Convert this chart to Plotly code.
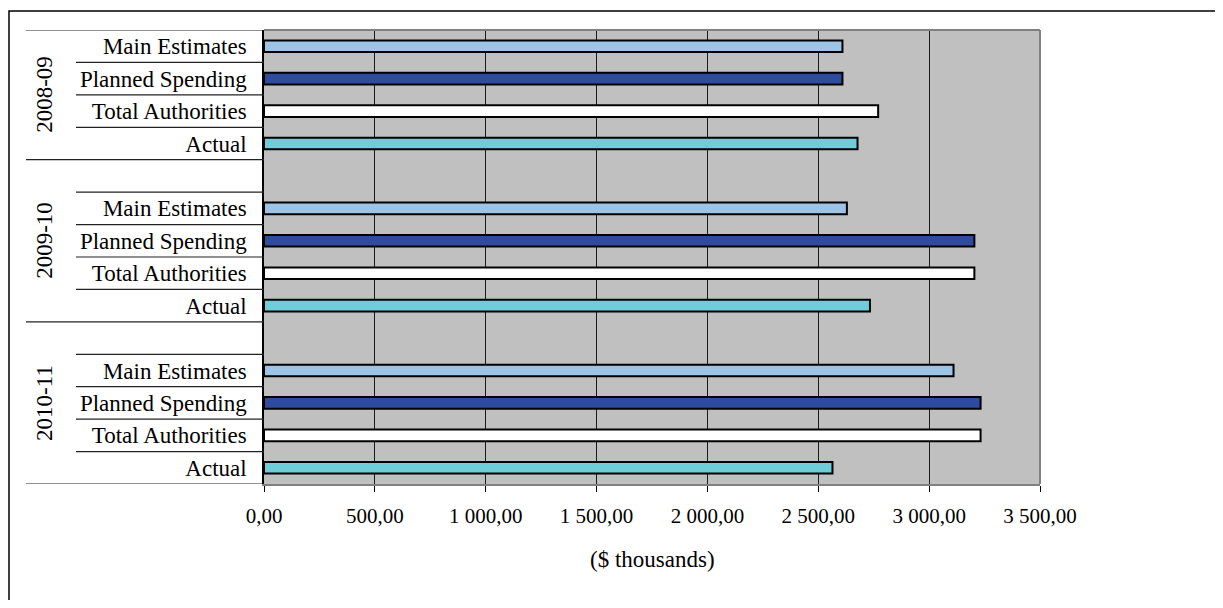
import plotly.graph_objects as go

# ---- data ----
years = ["2008-09", "2009-10", "2010-11"]
series_names = ["Main Estimates", "Planned Spending", "Total Authorities", "Actual"]
main_estimates = [2609, 2629, 3110]
planned_spending = [2609, 3204, 3232]
total_authorities = [2770, 3204, 3232]
actual = [2677, 2733, 2564]
x_tickvals = [0, 500, 1000, 1500, 2000, 2500, 3000, 3500]
x_ticktext = ["0,00", "500,00", "1 000,00", "1 500,00", "2 000,00", "2 500,00", "3 000,00", "3 500,00"]
x_title = "($ thousands)"

values = [main_estimates, planned_spending, total_authorities, actual]
colors = ["#9DC3E6", "#2E4B9F", "#FFFFFF", "#6FCCD9"]

# ---- layout constants (pixels) ----
OFF = 8  # page body margin
W, H = 1223 - 2 * OFF, 608 - 2 * OFF
L, T = 264 - OFF, 30 - OFF
R, B = W - (1040 - OFF), H - (484 - OFF)
PW, PH = W - L - R, H - T - B
FONT = "Liberation Serif"

def px_x(p):  # window pixel -> paper x
    return (p - OFF - L) / PW

def px_y(p):  # window pixel -> paper y
    return 1 - (p - OFF - T) / PH

n_series = len(series_names)
stride = n_series + 1  # blank row between year groups

fig = go.Figure()
for s, name in enumerate(series_names):
    ys = [g * stride + s for g in range(len(years))]
    fig.add_trace(go.Bar(
        x=values[s], y=ys, orientation="h", name=name,
        marker=dict(color=colors[s], line=dict(color="#000000", width=2)),
        width=0.36, showlegend=False, hoverinfo="x+name",
    ))

n_rows = len(years) * stride - 1
tickvals, ticktext = [], []
for g in range(len(years)):
    for s, name in enumerate(series_names):
        tickvals.append(g * stride + s)
        ticktext.append(name)

shapes = []
long_x0, short_x0 = px_x(26), px_x(76)
boundaries = [-0.5 + k for k in range(n_rows + 1)]
group_edges = {-0.5, n_rows - 0.5}
for g in range(1, len(years)):
    group_edges.add(g * stride - 1.5)
for b in boundaries:
    x0 = long_x0 if b in group_edges else short_x0
    shapes.append(dict(type="line", xref="paper", yref="y", x0=x0, x1=0, y0=b, y1=b,
                       line=dict(color="#222222", width=1.2)))
shapes.append(dict(type="line", xref="paper", yref="paper", x0=0, x1=1, y0=1, y1=1,
                   line=dict(color="#808080", width=2)))
shapes.append(dict(type="line", xref="paper", yref="paper", x0=1, x1=1, y0=0, y1=1,
                   line=dict(color="#808080", width=2)))
shapes.append(dict(type="rect", xref="paper", yref="paper",
                   x0=px_x(9), x1=px_x(1260), y0=px_y(650), y1=px_y(11),
                   line=dict(color="#000000", width=1.5), fillcolor="rgba(0,0,0,0)", layer="below"))

annotations = []
for g, yr in enumerate(years):
    top = -0.5 if g == 0 else g * stride - 1.5
    bot = g * stride + n_series - 0.5
    annotations.append(dict(text=yr, xref="paper", yref="y", x=px_x(45), y=(top + bot) / 2,
                            textangle=-90, showarrow=False, xanchor="center", yanchor="middle",
                            font=dict(family=FONT, size=23, color="#000000")))
annotations.append(dict(text=x_title, xref="paper", yref="paper", x=0.5, y=px_y(559),
                        showarrow=False, xanchor="center", yanchor="middle",
                        font=dict(family=FONT, size=23, color="#000000")))

fig.update_layout(
    width=W, height=H,
    margin=dict(l=L, r=R, t=T, b=B),
    paper_bgcolor="#FFFFFF", plot_bgcolor="#C0C0C0",
    barmode="overlay",
    font=dict(family=FONT, size=21, color="#000000"),
    shapes=shapes, annotations=annotations,
    xaxis=dict(range=[0, 3500], tickvals=x_tickvals, ticktext=x_ticktext,
               showgrid=True, gridcolor="#1a1a1a", gridwidth=1,
               ticks="outside", ticklen=6, tickcolor="#000000", tickwidth=1,
               showline=True, linecolor="#808080", linewidth=2,
               ticklabelstandoff=6, zeroline=False,
               tickfont=dict(family=FONT, size=21, color="#000000")),
    yaxis=dict(range=[n_rows - 0.5, -0.5], tickvals=tickvals, ticktext=ticktext,
               showgrid=False, zeroline=False, ticks="",
               showline=True, linecolor="#000000", linewidth=1.5,
               ticklabelstandoff=11,
               tickfont=dict(family=FONT, size=23, color="#000000")),
)

fig.write_html("out.html")
